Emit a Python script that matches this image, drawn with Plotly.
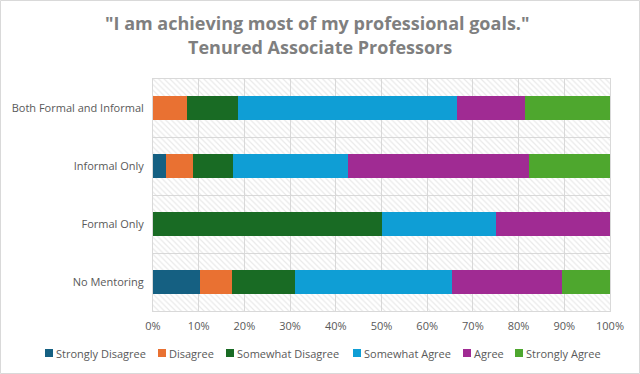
import plotly.graph_objects as go

categories = ["No Mentoring", "Formal Only", "Informal Only", "Both Formal and Informal"]
series_names = ["Strongly Disagree", "Disagree", "Somewhat Disagree", "Somewhat Agree", "Agree", "Strongly Agree"]
strongly_disagree = [10.3, 0.0, 2.9, 0.0]
disagree = [6.9, 0.0, 5.9, 7.4]
somewhat_disagree = [13.8, 50.0, 8.8, 11.1]
somewhat_agree = [34.5, 25.0, 25.0, 48.1]
agree = [24.1, 25.0, 39.7, 14.8]
strongly_agree = [10.3, 0.0, 17.6, 18.5]
series_values = [strongly_disagree, disagree, somewhat_disagree, somewhat_agree, agree, strongly_agree]
colors = ["#156082", "#E97132", "#196B24", "#0F9ED5", "#A02B93", "#4EA72E"]
x_ticks = list(range(0, 101, 10))
x_tick_labels = [f"{v}%" for v in x_ticks]
title_lines = ['"I am achieving most of my professional goals."', "Tenured Associate Professors"]

W, H = 640, 374
L, R, T, B = 153, 30, 79, 63
pw, ph = W - L - R, H - T - B

# legend swatch left edges (px, figure coords); legend row centre y
legend_swatch_x = [45, 158, 226, 353, 463, 515]
legend_y = 353
swatch = 8


def px_x(px):
    return (px - L) / pw


def px_y(py):
    return (T + ph - py) / ph


fig = go.Figure()

# hatched background bands on the base axes
fig.add_trace(go.Bar(
    y=list(range(len(categories))), x=[100] * len(categories), orientation="h",
    width=1, xaxis="x", yaxis="y", showlegend=False, hoverinfo="skip",
    marker=dict(color="rgba(0,0,0,0)", line=dict(width=0),
                pattern=dict(shape="\\", fgcolor="#d4d4d4", size=4, solidity=0.3)),
))

for name, vals, col in zip(series_names, series_values, colors):
    fig.add_trace(go.Bar(
        y=categories, x=vals, name=name, orientation="h", xaxis="x2", yaxis="y2",
        marker=dict(color=col, line=dict(width=0)), width=0.4, showlegend=False,
    ))

grid = "#d9d9d9"
text_font = dict(family="Open Sans, Roboto, sans-serif", size=11, color="#595959")
title_font = dict(family="Open Sans, Roboto, sans-serif", size=18, color="#7f7f7f", weight="bold")

shapes = [dict(type="rect", xref="paper", yref="paper",
               x0=px_x(0.5), x1=px_x(W - 0.5), y0=px_y(H - 0.5), y1=px_y(0.5),
               line=dict(color="#d9d9d9", width=1), layer="above")]
annotations = [
    dict(text=title_lines[0], xref="paper", yref="paper", x=px_x(317), y=px_y(23),
         xanchor="center", yanchor="middle", showarrow=False, font=title_font),
    dict(text=title_lines[1], xref="paper", yref="paper", x=px_x(320), y=px_y(47),
         xanchor="center", yanchor="middle", showarrow=False, font=title_font),
]
for name, col, sx in zip(series_names, colors, legend_swatch_x):
    shapes.append(dict(type="rect", xref="paper", yref="paper",
                       x0=px_x(sx), x1=px_x(sx + swatch),
                       y0=px_y(legend_y + swatch / 2), y1=px_y(legend_y - swatch / 2),
                       fillcolor=col, line=dict(width=0), layer="above"))
    annotations.append(dict(text=name, xref="paper", yref="paper", x=px_x(sx + swatch + 1),
                            y=px_y(legend_y), xanchor="left", yanchor="middle",
                            showarrow=False, font=text_font))

fig.update_layout(
    width=W, height=H, margin=dict(l=L, r=R, t=T, b=B),
    paper_bgcolor="white", plot_bgcolor="white",
    barmode="stack", bargap=0.6, showlegend=False,
    xaxis=dict(range=[0, 100], tickvals=x_ticks, showticklabels=False, showgrid=True,
               gridcolor=grid, gridwidth=1, zeroline=False, showline=True, mirror=True,
               linecolor=grid, fixedrange=True),
    yaxis=dict(range=[-0.5, len(categories) - 0.5], tickvals=[i - 0.5 for i in range(len(categories) + 1)],
               showticklabels=False, showgrid=True, gridcolor=grid, gridwidth=1, zeroline=False,
               showline=True, mirror=True, linecolor=grid),
    xaxis2=dict(overlaying="x", anchor="y2", side="bottom", range=[0, 100], tickvals=x_ticks,
                ticktext=x_tick_labels, showgrid=False, zeroline=False, tickfont=text_font,
                ticks="outside", ticklen=5, tickcolor="rgba(0,0,0,0)"),
    yaxis2=dict(overlaying="y", anchor="x2", side="left", type="category",
                categoryorder="array", categoryarray=categories,
                range=[-0.5, len(categories) - 0.5], showgrid=False, zeroline=False,
                tickfont=text_font, ticks="outside", ticklen=6, tickcolor="rgba(0,0,0,0)"),
    annotations=annotations,
    shapes=shapes,
)

fig.write_html("out.html")
